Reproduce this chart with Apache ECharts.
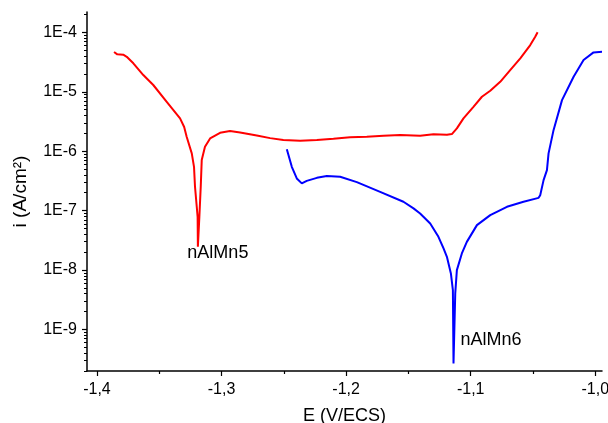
<!DOCTYPE html>
<html>
<head>
<meta charset="utf-8">
<script src="https://cdn.jsdelivr.net/npm/echarts@6/dist/echarts.min.js"></script>
<style>html,body{margin:0;padding:0;background:#fff;}#c{width:608px;height:423px;}</style>
</head>
<body>
<div id="c"></div>
<script>
// nAlMn5 (red)
const redE = [-1.3863,-1.3837,-1.3789,-1.3761,-1.3708,-1.3628,-1.3548,-1.3440,-1.3333,-1.3300,-1.3280,-1.3239,-1.3221,-1.3213,-1.3199,-1.3192,-1.3190,-1.3178,-1.3167,-1.3159,-1.3133,-1.3092,-1.3012,-1.2932,-1.2851,-1.2717,-1.2610,-1.2504,-1.2369,-1.2235,-1.2102,-1.1968,-1.1834,-1.1700,-1.1566,-1.1406,-1.1299,-1.1191,-1.1151,-1.1111,-1.1058,-1.0978,-1.0910,-1.0843,-1.0763,-1.0683,-1.0602,-1.0522,-1.0482,-1.0463];
const redI = [4.66e-5,4.26e-5,4.20e-5,3.88e-5,3.01e-5,1.91e-5,1.30e-5,6.79e-6,3.57e-6,2.55e-6,1.75e-6,9.18e-7,5.46e-7,2.52e-7,1.16e-7,7.87e-8,2.46e-8,7.87e-8,2.52e-7,7.08e-7,1.19e-6,1.64e-6,2.04e-6,2.18e-6,2.07e-6,1.84e-6,1.66e-6,1.54e-6,1.50e-6,1.54e-6,1.62e-6,1.71e-6,1.75e-6,1.82e-6,1.87e-6,1.82e-6,1.92e-6,1.89e-6,1.94e-6,2.42e-6,3.56e-6,5.58e-6,8.24e-6,1.04e-5,1.47e-5,2.32e-5,3.65e-5,6.11e-5,8.43e-5,1.00e-4];
// nAlMn6 (blue)
const blueE = [-1.2476,-1.2436,-1.2396,-1.2356,-1.2316,-1.2235,-1.2155,-1.2048,-1.1914,-1.1727,-1.1540,-1.1459,-1.1406,-1.1325,-1.1259,-1.1218,-1.1191,-1.1159,-1.1143,-1.1138,-1.1124,-1.1111,-1.1071,-1.1031,-1.0950,-1.0843,-1.0709,-1.0576,-1.0455,-1.0442,-1.0415,-1.0388,-1.0375,-1.0335,-1.0267,-1.0174,-1.0094,-1.0014,-0.9946];
const blueI = [1.08e-6,5.46e-7,3.48e-7,2.87e-7,3.17e-7,3.56e-7,3.81e-7,3.71e-7,3.02e-7,2.07e-7,1.41e-7,1.09e-7,8.97e-8,6.09e-8,3.62e-8,2.31e-8,1.67e-8,8.77e-9,4.59e-9,2.68e-10,4.04e-9,9.96e-9,1.90e-8,2.98e-8,5.70e-8,8.39e-8,1.16e-7,1.41e-7,1.64e-7,1.82e-7,3.26e-7,4.81e-7,9.18e-7,2.26e-6,7.24e-6,1.79e-5,3.42e-5,4.60e-5,4.71e-5];

const xMajorTicks = [-1.4,-1.3,-1.2,-1.1,-1.0];
const xMinorTicks = [-1.35,-1.25,-1.15,-1.05];
const yMajorTicks = [1e-9,1e-8,1e-7,1e-6,1e-5,1e-4];
const yMinorTicks = [];
[1e-10,1e-9,1e-8,1e-7,1e-6,1e-5,1e-4].forEach(d => { for (let k = 2; k <= 9; k++) { const v = +(k*d).toPrecision(3); if (v >= 2e-10 && v <= 2.2e-4) yMinorTicks.push(v); } });

const xMin = -1.408, xMax = -0.9946, yMin = 2.0e-10, yMax = 2.2e-4;

const FONT = 'Liberation Sans, Arial, sans-serif';
const chart = echarts.init(document.getElementById('c'), null, {renderer: 'canvas'});

const redData = redE.map((e, i) => [e, redI[i]]);
const blueData = blueE.map((e, i) => [e, blueI[i]]);

chart.setOption({
  backgroundColor: '#ffffff',
  animation: false,
  grid: {left: 87, right: 6, top: 12, bottom: 52, containLabel: false, outerBoundsMode: 'none'},
  xAxis: [{
    type: 'value', min: xMin, max: xMax,
    name: 'E (V/ECS)', nameLocation: 'middle', nameGap: 36,
    nameTextStyle: {fontFamily: FONT, fontSize: 18, color: '#000'},
    axisLine: {show: true, onZero: false, lineStyle: {color: '#000', width: 1.5}},
    axisTick: {show: true, length: 5, inside: false, lineStyle: {color: '#000', width: 1.2}, customValues: xMajorTicks},
    axisLabel: {customValues: xMajorTicks, margin: 11, fontFamily: FONT, fontSize: 16, color: '#000',
      formatter: v => v.toFixed(1).replace('.', ',')},
    splitLine: {show: false}
  }, {
    type: 'value', min: xMin, max: xMax, position: 'bottom', gridIndex: 0,
    axisLine: {show: false},
    axisTick: {show: true, length: 3, lineStyle: {color: '#000', width: 1.2}, customValues: xMinorTicks},
    axisLabel: {show: false}, splitLine: {show: false}
  }],
  yAxis: [{
    type: 'log', logBase: 10, min: yMin, max: yMax,
    name: 'i (A/cm²)', nameLocation: 'middle', nameGap: 57,
    nameTextStyle: {fontFamily: FONT, fontSize: 19, color: '#000'},
    axisLine: {show: true, onZero: false, lineStyle: {color: '#000', width: 1.5}},
    axisTick: {show: true, length: 5, lineStyle: {color: '#000', width: 1.2}, customValues: yMajorTicks},
    axisLabel: {customValues: yMajorTicks, margin: 10, fontFamily: FONT, fontSize: 16, color: '#000',
      formatter: v => '1E' + Math.round(Math.log10(v))},
    splitLine: {show: false}, minorTick: {show: false}
  }, {
    type: 'log', logBase: 10, min: yMin, max: yMax, position: 'left',
    axisLine: {show: false},
    axisTick: {show: true, length: 3, lineStyle: {color: '#000', width: 1}, customValues: yMinorTicks},
    axisLabel: {show: false}, splitLine: {show: false}
  }],
  series: [{
    name: 'nAlMn5', type: 'line', data: redData, showSymbol: false, smooth: false,
    lineStyle: {color: '#ff0000', width: 2}, itemStyle: {color: '#ff0000'},
    markPoint: {
      symbol: 'circle', symbolSize: 0, animation: false,
      data: [{type: 'min', valueDim: 'y'}],
      label: {show: true, position: 'bottom', distance: 0, offset: [20, -3], formatter: 'nAlMn5',
        fontFamily: FONT, fontSize: 18, color: '#000'}
    }
  }, {
    name: 'nAlMn6', type: 'line', data: blueData, showSymbol: false, smooth: false,
    lineStyle: {color: '#0000ff', width: 2}, itemStyle: {color: '#0000ff'},
    markPoint: {
      symbol: 'circle', symbolSize: 0, animation: false,
      data: [{type: 'min', valueDim: 'y'}],
      label: {show: true, position: 'right', distance: 5, offset: [2, -23], formatter: 'nAlMn6',
        fontFamily: FONT, fontSize: 18, color: '#000'}
    }
  }]
});
</script>
</body>
</html>
